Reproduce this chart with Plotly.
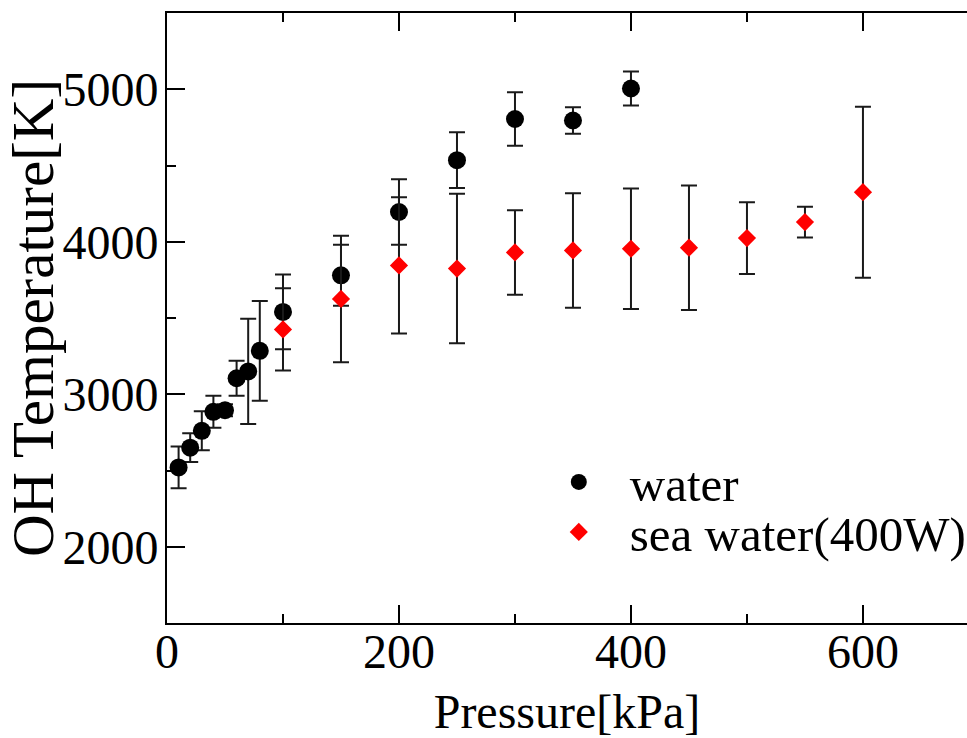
import plotly.graph_objects as go

# Data
water_x = [10, 20, 30, 40, 50, 60, 70, 80, 100, 150, 200, 250, 300, 350, 400]
water_y = [2520, 2650, 2760, 2885, 2895, 3105, 3150, 3285, 3540, 3780, 4195, 4535, 4805, 4795, 5005]
water_err = [137, 95, 128, 105, 40, 115, 345, 327, 245, 200, 215, 183, 175, 87, 112]

sea_x = [100, 150, 200, 250, 300, 350, 400, 450, 500, 550, 600]
sea_y = [3425, 3625, 3845, 3824, 3930, 3943, 3954, 3961, 4024, 4129, 4325]
sea_err = [270, 415, 446, 490, 277, 375, 395, 408, 235, 101, 561]

x_ticks = [0, 200, 400, 600]
y_ticks = [2000, 3000, 4000, 5000]

FONT = "Liberation Serif"

fig = go.Figure()
fig.add_trace(go.Scatter(
    x=water_x, y=water_y, mode="markers", name="water",
    marker=dict(symbol="circle", size=18, color="black", line=dict(width=0)),
    error_y=dict(type="data", array=water_err, visible=True, color="#1a1a1a", thickness=2, width=8),
    legend="legend",
))
fig.add_trace(go.Scatter(
    x=sea_x, y=sea_y, mode="markers", name="sea water(400W)",
    marker=dict(symbol="diamond", size=14, color="#ff0000", line=dict(width=0)),
    error_y=dict(type="data", array=sea_err, visible=True, color="#1a1a1a", thickness=2, width=8),
    legend="legend2",
))

axis_common = dict(
    showgrid=False, zeroline=False, showline=True, linecolor="black", linewidth=2,
    ticks="inside", tickwidth=2, tickcolor="black",
    tickfont=dict(family=FONT, size=48, color="black"),
)

fig.update_layout(
    width=967, height=738,
    margin=dict(l=167, r=0, t=13, b=115, autoexpand=False),
    paper_bgcolor="white", plot_bgcolor="white",
    font=dict(family=FONT, color="black"),
    xaxis=dict(
        **axis_common, range=[0, 689.7], tickvals=x_ticks, ticklen=18, mirror="ticks",
        ticklabelstandoff=-15,
        minor=dict(dtick=100, tick0=0, ticks="inside", ticklen=9, tickwidth=2, tickcolor="black"),
        title=dict(text="Pressure[kPa]", font=dict(family=FONT, size=48, color="black"), standoff=22),
    ),
    yaxis=dict(
        **axis_common, range=[1500, 5500], tickvals=y_ticks, ticklen=18, mirror=False,
        ticklabelstandoff=-3,
        minor=dict(dtick=500, tick0=0, ticks="inside", ticklen=9, tickwidth=2, tickcolor="black"),
        title=dict(text="OH Temperature[K]", font=dict(family=FONT, size=59, color="black"), standoff=10),
    ),
    yaxis2=dict(
        overlaying="y", side="right", anchor="x", range=[1500, 5500], tickvals=y_ticks,
        ticks="inside", ticklen=6, tickwidth=2, tickcolor="black",
        showticklabels=False, showline=False, showgrid=False, zeroline=False,
    ),
    legend=dict(
        x=0.451, y=0.231, xanchor="left", yanchor="middle", itemwidth=92,
        font=dict(family=FONT, size=49, color="black"), bgcolor="rgba(0,0,0,0)", borderwidth=0,
    ),
    legend2=dict(
        x=0.451, y=0.149, xanchor="left", yanchor="middle", itemwidth=92,
        font=dict(family=FONT, size=49, color="black"), bgcolor="rgba(0,0,0,0)", borderwidth=0,
    ),
    showlegend=True,
)

fig.write_html("out.html")
